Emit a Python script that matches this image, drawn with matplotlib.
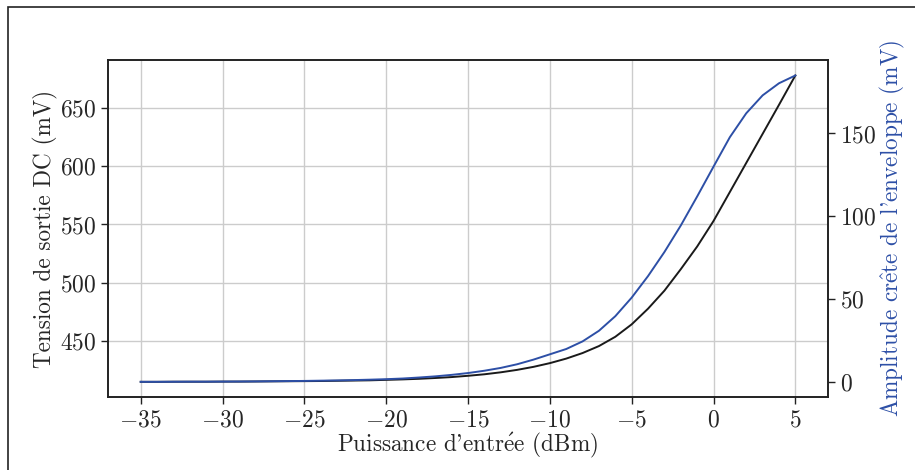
import numpy as np
import matplotlib
matplotlib.use("Agg")
from matplotlib import pyplot as plt
from matplotlib.patches import Rectangle

plt.rcParams['font.family'] = 'cmr10'
plt.rcParams['mathtext.fontset'] = 'cm'
plt.rcParams['axes.formatter.use_mathtext'] = True
plt.rcParams['axes.unicode_minus'] = True
plt.rcParams['text.color'] = '#262626'
plt.rcParams['xtick.color'] = '#262626'
plt.rcParams['ytick.color'] = '#262626'
plt.rcParams['axes.labelcolor'] = '#262626'

# puissance d'entree (dBm)
p_in = np.arange(-35, 6)

# tension DC en sortie (mV)
v_dc = [414.5, 414.5, 414.6, 414.6, 414.6, 414.7, 414.7, 414.8, 414.9, 415.0,
        415.1, 415.2, 415.4, 415.6, 415.8, 416.2, 416.6, 417.1, 417.8, 418.6,
        419.7, 421.0, 422.7, 424.8, 427.4, 430.6, 434.5, 439.3, 445.3, 453.3,
        464.0, 477.5, 493.0, 511.5, 531.0, 553.0, 578.0, 603.0, 628.0, 653.0,
        678.3]

# amplitude crete de l'enveloppe (mV)
v_env = [0.2, 0.2, 0.25, 0.3, 0.3, 0.35, 0.4, 0.45, 0.55, 0.65,
         0.75, 0.9, 1.05, 1.25, 1.5, 1.8, 2.2, 2.8, 3.5, 4.4,
         5.5, 6.9, 8.6, 10.8, 13.6, 16.8, 20.0, 24.6, 31.0, 39.8,
         51.0, 64.0, 78.5, 94.5, 112.0, 130.0, 147.8, 162.2, 173.0, 180.3,
         185.0]

bleu = '#2d4fa6'

fig = plt.figure(figsize=(9.15, 4.7), dpi=100)
ax = fig.add_axes([0.118, 0.155, 0.787, 0.717])
ax2 = ax.twinx()

ax.plot(p_in, v_dc, color='#1a1a1a', lw=1.4)
ax2.plot(p_in, v_env, color=bleu, lw=1.4)

ax.grid(True, color='#cccccc', lw=1.0)
ax.set_axisbelow(True)
ax.set_xticks(np.arange(-35, 6, 5))
ax.set_yticks([450, 500, 550, 600, 650])
ax2.set_yticks([0, 50, 100, 150])

ax.set_xlabel(r"Puissance d'entr$\mathrm{\acute{e}}$e (dBm)", fontsize=16.7,
              labelpad=0)
ax.set_ylabel("Tension de sortie DC (mV)", fontsize=16.7, labelpad=1)
ax2.set_ylabel(r"Amplitude cr$\mathrm{\hat{e}}$te de l'enveloppe (mV)",
               fontsize=16.7, color=bleu, labelpad=1)

for a in (ax, ax2):
    a.tick_params(labelsize=17, length=5, width=1, color='#222222')
    for s in a.spines.values():
        s.set_color('#222222')
        s.set_linewidth(1.2)

# cadre de la figure
fig.patches.append(Rectangle((8 / 915, -0.1), 1.2, 1.1 - 7 / 470,
                             transform=fig.transFigure, fill=False,
                             ec='#222222', lw=1.2))

fig.savefig("out.png", dpi=100)
